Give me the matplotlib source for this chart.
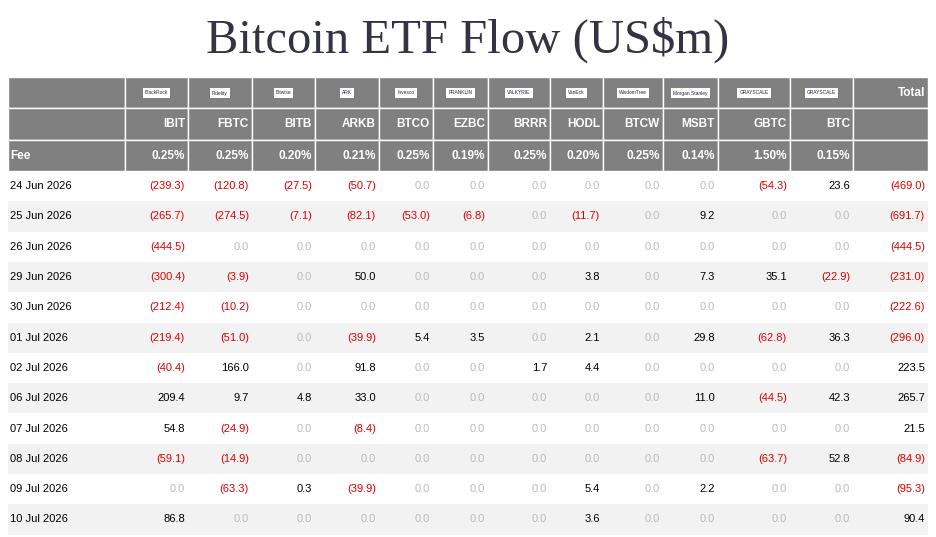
import matplotlib.pyplot as plt
from matplotlib.patches import Rectangle

# ETF tickers, issuers and fees
tickers = ["IBIT", "FBTC", "BITB", "ARKB", "BTCO", "EZBC", "BRRR", "HODL", "BTCW", "MSBT", "GBTC", "BTC"]
issuers = ["BlackRock", "Fidelity", "Bitwise", "ARK", "Invesco", "FRANKLIN", "VALKYRIE", "VanEck", "WisdomTree", "Morgan Stanley", "GRAYSCALE", "GRAYSCALE"]
fees = ["0.25%", "0.25%", "0.20%", "0.21%", "0.25%", "0.19%", "0.25%", "0.20%", "0.25%", "0.14%", "1.50%", "0.15%"]

dates = ["24 Jun 2026", "25 Jun 2026", "26 Jun 2026", "29 Jun 2026", "30 Jun 2026", "01 Jul 2026",
         "02 Jul 2026", "06 Jul 2026", "07 Jul 2026", "08 Jul 2026", "09 Jul 2026", "10 Jul 2026"]
flows = [
    [-239.3, -120.8, -27.5, -50.7, 0, 0, 0, 0, 0, 0, -54.3, 23.6],
    [-265.7, -274.5, -7.1, -82.1, -53.0, -6.8, 0, -11.7, 0, 9.2, 0, 0],
    [-444.5, 0, 0, 0, 0, 0, 0, 0, 0, 0, 0, 0],
    [-300.4, -3.9, 0, 50.0, 0, 0, 0, 3.8, 0, 7.3, 35.1, -22.9],
    [-212.4, -10.2, 0, 0, 0, 0, 0, 0, 0, 0, 0, 0],
    [-219.4, -51.0, 0, -39.9, 5.4, 3.5, 0, 2.1, 0, 29.8, -62.8, 36.3],
    [-40.4, 166.0, 0, 91.8, 0, 0, 1.7, 4.4, 0, 0, 0, 0],
    [209.4, 9.7, 4.8, 33.0, 0, 0, 0, 0, 0, 11.0, -44.5, 42.3],
    [54.8, -24.9, 0, -8.4, 0, 0, 0, 0, 0, 0, 0, 0],
    [-59.1, -14.9, 0, 0, 0, 0, 0, 0, 0, 0, -63.7, 52.8],
    [0, -63.3, 0.3, -39.9, 0, 0, 0, 5.4, 0, 2.2, 0, 0],
    [86.8, 0, 0, 0, 0, 0, 0, 3.6, 0, 0, 0, 0],
]
totals = [-469.0, -691.7, -444.5, -231.0, -222.6, -296.0, 223.5, 265.7, 21.5, -84.9, -95.3, 90.4]

W, H = 937, 537
fig = plt.figure(figsize=(W / 100, H / 100), dpi=100)
ax = fig.add_axes([0, 0, 1, 1])
ax.set_xlim(0, W)
ax.set_ylim(H, 0)
ax.axis("off")

fam = ["Liberation Sans", "DejaVu Sans"]
ax.text(468, 40, "Bitcoin ETF Flow (US$m)", ha="center", va="center", fontsize=35,
        family="Liberation Serif", color="#333344")

edges = [8, 125, 188, 252, 315, 379, 433, 488, 550, 603, 663, 718, 790, 853, 928]
hdr = [77, 108, 140, 171]
rh = 30.3

def fmt(v):
    if v == 0:
        return "0.0", "#bbbbbb"
    if v < 0:
        return f"({-v:.1f})", "#dd0000"
    return f"{v:.1f}", "black"

# header
for i in range(3):
    for c in range(len(edges) - 1):
        ax.add_patch(Rectangle((edges[c], hdr[i]), edges[c + 1] - edges[c], hdr[i + 1] - hdr[i],
                               fc="#808080", ec="white", lw=1))
for c, name in enumerate(issuers):
    xc = (edges[c + 1] + edges[c + 2]) / 2
    ax.text(xc, 93, name, ha="center", va="center", fontsize=3.5, family=fam, color="#222244",
            bbox=dict(fc="white", ec="none", pad=1.5))
    xr = edges[c + 2] - 3
    ax.text(xr, 124, tickers[c], ha="right", va="center", fontsize=8.5, weight="bold", color="white", family=fam)
    ax.text(xr, 156, fees[c], ha="right", va="center", fontsize=8.5, weight="bold", color="white", family=fam)
ax.text(edges[-1] - 3, 93, "Total", ha="right", va="center", fontsize=8.5, weight="bold", color="white", family=fam)
ax.text(10, 156, "Fee", ha="left", va="center", fontsize=8.5, weight="bold", color="white", family=fam)

# body
for r, d in enumerate(dates):
    y0 = hdr[-1] + r * rh
    ax.add_patch(Rectangle((edges[0], y0), edges[-1] - edges[0], rh,
                           fc="white" if r % 2 == 0 else "#f2f2f2", ec="none"))
    yc = y0 + rh / 2
    ax.text(10, yc, d, ha="left", va="center", fontsize=8, family=fam)
    for c, v in enumerate(flows[r] + [totals[r]]):
        s, col = fmt(v)
        ax.text(edges[c + 2] - 3, yc, s, ha="right", va="center", fontsize=8, color=col, family=fam)

fig.savefig("out.png", dpi=100)
